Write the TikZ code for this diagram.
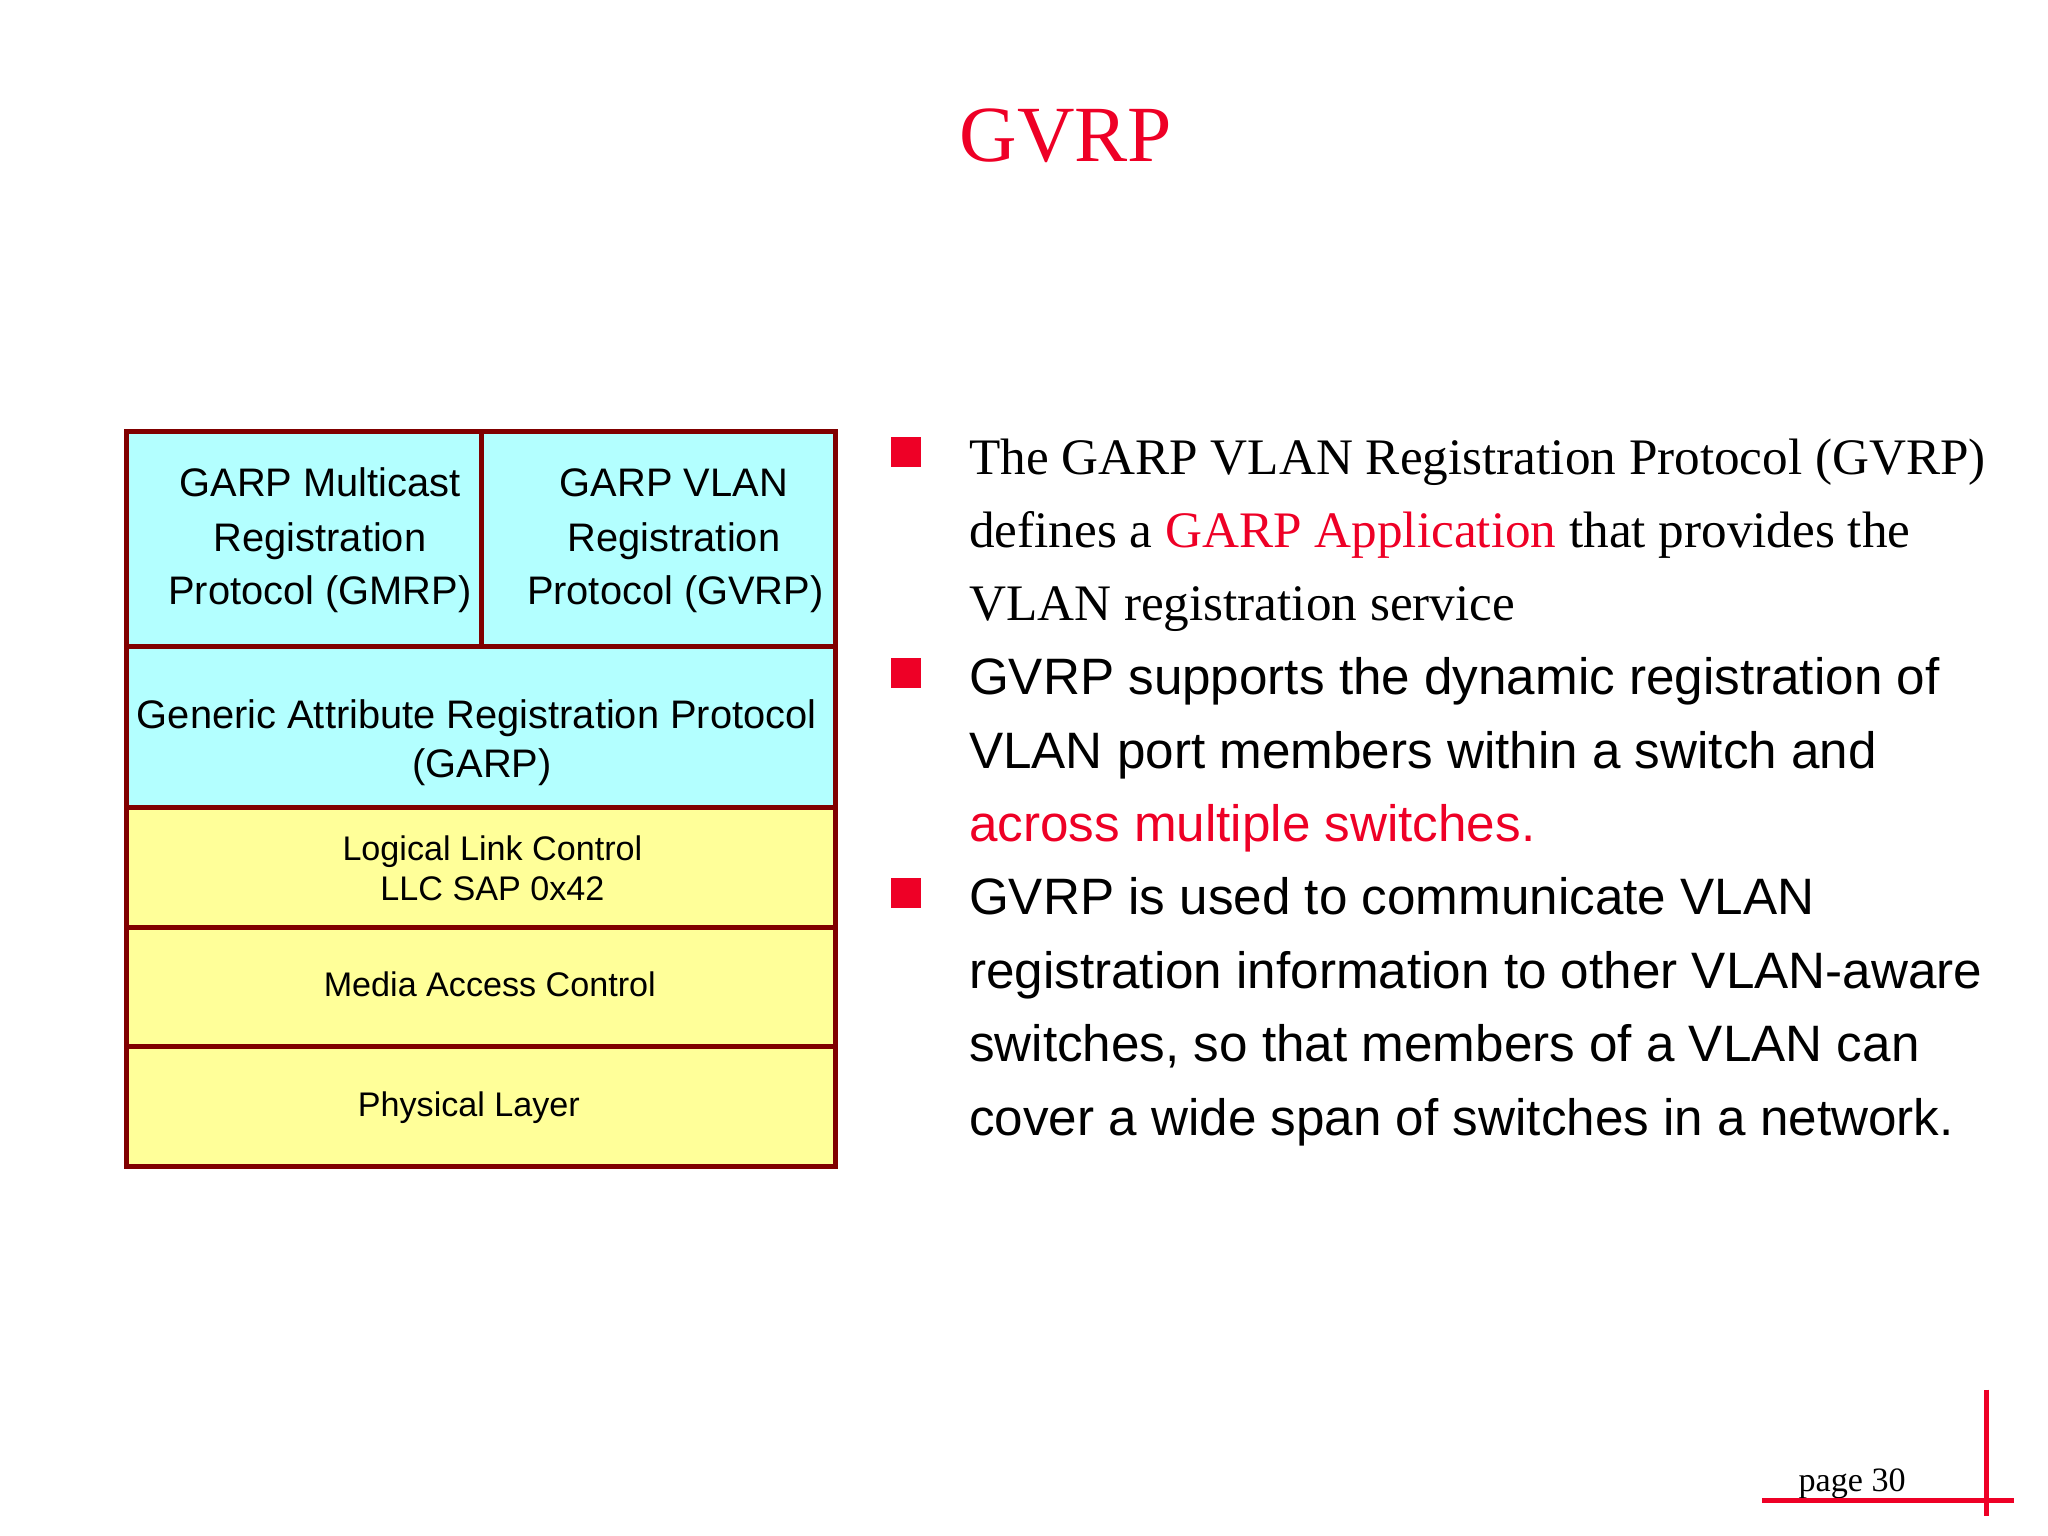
\documentclass[tikz,border=0pt]{standalone}
\usepackage{fontspec}
\setmainfont{Liberation Serif}
\setsansfont{Liberation Sans}
\definecolor{slred}{RGB}{238,0,38}
\definecolor{frame}{RGB}{128,0,0}
\definecolor{cyanfill}{RGB}{179,255,255}
\definecolor{yelfill}{RGB}{255,255,153}
\begin{document}
\begin{tikzpicture}[x=0.45918pt,y=-0.45918pt,
  every node/.style={inner sep=0pt,outer sep=0pt},
  cellbox/.style={draw=frame,line width=1.75pt,fill=#1},
  lbig/.style={font=\sffamily\fontsize{14}{16}\selectfont,anchor=base},
  lsmall/.style={font=\sffamily\fontsize{12}{14}\selectfont,anchor=base},
  bser/.style={font=\rmfamily\fontsize{18}{22}\selectfont,anchor=base west},
  bsans/.style={font=\sffamily\fontsize{18}{22}\selectfont,anchor=base west},
  bsq/.style={fill=slred,minimum size=10.5pt,draw=none},
  redline/.style={draw=slred,line width=1.75pt}]
\useasboundingbox (0,0) rectangle (1568,1176);
% title
\node[font=\rmfamily\fontsize{28}{32}\selectfont,text=slred,anchor=base] (title) at (816,124) {GVRP};
% layer stack
\draw[cellbox=cyanfill] (97,330) rectangle (369,495);
\draw[cellbox=cyanfill] (369,330) rectangle (640,495);
\draw[cellbox=cyanfill] (97,495) rectangle (640,618);
\draw[cellbox=yelfill] (97,618) rectangle (640,710);
\draw[cellbox=yelfill] (97,710) rectangle (640,801);
\draw[cellbox=yelfill] (97,801) rectangle (640,893);
% cell texts
\node[lbig] (gm1) at (245,380) {GARP Multicast};
\node[lbig] (gm2) at (245,422) {Registration};
\node[lbig] (gm3) at (245,462.5) {Protocol (GMRP)};
\node[lbig] (gv1) at (516,380) {GARP VLAN};
\node[lbig] (gv2) at (516,422) {Registration};
\node[lbig] (gv3) at (517,462.5) {Protocol (GVRP)};
\node[lbig] (ga1) at (365,558) {Generic Attribute Registration Protocol};
\node[lbig] (ga2) at (369,595) {(GARP)};
\node[lsmall] (llc1) at (377,659) {Logical Link Control};
\node[lsmall] (llc2) at (377,689.5) {LLC SAP 0x42};
\node[lsmall] (mac) at (375,763) {Media Access Control};
\node[lsmall] (phy) at (359,854.5) {Physical Layer};
% bullets
\node[bsq] (sq1) at (693.5,346) {};
\node[bsq] (sq2) at (693.5,515) {};
\node[bsq] (sq3) at (693.5,684) {};
\node[bser] (t1) at (742,363) {The GARP VLAN Registration Protocol (GVRP)};
\node[bser] (t2) at (742,419) {defines a \textcolor{slred}{GARP Application} that provides the};
\node[bser] (t3) at (742,475) {VLAN registration service};
\node[bsans] (t4) at (742,532) {GVRP supports the dynamic registration of};
\node[bsans] (t5) at (742,588) {VLAN port members within a switch and};
\node[bsans,text=slred] (t6) at (742,644) {across multiple switches.};
\node[bsans] (t7) at (742,700.5) {GVRP is used to communicate VLAN};
\node[bsans] (t8) at (742,757) {registration information to other VLAN-aware};
\node[bsans] (t9) at (742,813) {switches, so that members of a VLAN can};
\node[bsans] (t10) at (742,869) {cover a wide span of switches in a network.};
% footer
\node[font=\rmfamily\fontsize{12}{14}\selectfont,anchor=base west] (pg) at (1377,1142) {page 30};
\coordinate (hA) at (1349,1149);
\coordinate (hB) at (1542,1149);
\coordinate (vA) at (1521,1064);
\coordinate (vB) at (1521,1161);
\draw[redline] (hA) -- (hB);
\draw[redline] (vA) -- (vB);
\end{tikzpicture}
\end{document}
